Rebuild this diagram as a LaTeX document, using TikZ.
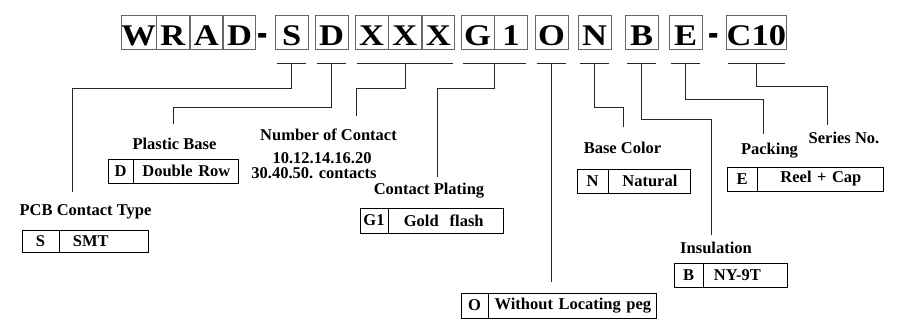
\documentclass[tikz,border=0pt]{standalone}
\usepackage{fontspec}
\setmainfont{Liberation Serif}
\newfontfamily\codefont[FakeStretch=1.15]{Liberation Serif}
\usetikzlibrary{positioning}

\tikzset{
	letterbox/.style = {draw=black!60, line width=0.8pt, minimum width=32.5pt, minimum height=34pt, inner sep=0pt, text height=26pt, text depth=0pt, font=\codefont\fontsize{30}{30}\selectfont\bfseries},
	dashmark/.style = {anchor=north, inner sep=0pt, font=\codefont\fontsize{30}{30}\selectfont\bfseries},
	keycell/.style = {draw, line width=0.9pt, minimum height=24pt, inner sep=0pt, font=\fontsize{16.5}{18}\selectfont\bfseries},
	valcell/.style = {keycell, right=0pt of #1, align=center},
	caption/.style = {anchor=base, inner sep=0pt, font=\fontsize{16.5}{18}\selectfont\bfseries},
	leader/.style = {draw=black!85, line width=0.8pt},
}

\begin{document}
\begin{tikzpicture}[x=1pt, y=-1pt]
		\useasboundingbox (0,0) rectangle (899,327);
		
		\node [letterbox, anchor=west] (pW) at (121,32) {W};
		\node [letterbox, right=0pt of pW] (pR) {R};
		\node [letterbox, right=0pt of pR] (pA) {A};
		\node [letterbox, right=0pt of pA] (pD) {D};
		\node [dashmark] (dash1) at (263,33) {\scalebox{0.9}[1.8]{-}};
		\node [letterbox, anchor=west] (cS) at (275,32) {S};
		\node [letterbox, anchor=west] (cD) at (315,32) {D};
		\node [letterbox, anchor=west] (cX1) at (355,32) {X};
		\node [letterbox, right=0pt of cX1] (cX2) {X};
		\node [letterbox, right=0pt of cX2] (cX3) {X};
		\node [letterbox, anchor=west] (cG) at (461,32) {G};
		\node [letterbox, right=0pt of cG] (cG1) {1};
		\node [letterbox, anchor=west] (cO) at (535,32) {O};
		\node [letterbox, anchor=west] (cN) at (578,32) {N};
		\node [letterbox, anchor=west] (cB) at (625,32) {B};
		\node [letterbox, anchor=west] (cE) at (669,32) {E};
		\node [dashmark] (dash2) at (714,33) {\scalebox{0.9}[1.8]{-}};
		\node [letterbox, anchor=west, minimum width=60pt] (cC) at (726,32) {C10};
		
		\node [caption] (lS) at (85.5,215) {PCB Contact Type};
		\node [caption] (lD) at (174.5,149) {Plastic Base};
		\node [caption] (lX) at (328.5,140) {Number of Contact};
		\node [caption] (lXa) at (322,163) {10.12.14.16.20};
		\node [caption] (lXb) at (314,178) {30.40.50. contacts};
		\node [caption] (lG) at (429,194) {Contact Plating};
		\node [caption] (lN) at (622.5,153) {Base Color};
		\node [caption] (lB) at (716,253) {Insulation};
		\node [caption] (lE) at (769.5,154) {Packing};
		\node [caption] (lC) at (844,143) {Series No.};
		
		\node [keycell, minimum width=37pt, minimum height=22pt] (kS) at (40.5,241) {S};
		\node [valcell=kS, minimum height=22pt, text width=63pt, inner xsep=13pt, align=left] (vS) {SMT};
		\node [keycell, minimum width=25pt] (kD) at (120.5,171) {D};
		\node [valcell=kD, text width=105pt] (vD) {Double Row};
		\node [keycell, minimum width=28pt, minimum height=25pt] (kG) at (374,220.5) {G1};
		\node [valcell=kG, minimum height=25pt, text width=85pt, inner xsep=15pt, align=left] (vG) {Gold\ \ flash};
		\node [keycell, minimum width=27pt, minimum height=25pt] (kO) at (474.5,305.5) {O};
		\node [valcell=kO, minimum height=25pt, text width=168pt] (vO) {Without Locating peg};
		\node [keycell, minimum width=31pt] (kN) at (592.5,181) {N};
		\node [valcell=kN, text width=82pt] (vN) {Natural};
		\node [keycell, minimum width=29pt] (kB) at (688.5,275) {B};
		\node [valcell=kB, text width=64pt, inner xsep=10pt, align=left] (vB) {NY-9T};
		\node [keycell, minimum width=30pt] (kE) at (742,179) {E};
		\node [valcell=kE, text width=126pt] (vE) {Reel + Cap};
		
		\coordinate (eS) at (72,192);
		\coordinate (eD) at (173,124);
		\coordinate (eX) at (356,116);
		\coordinate (eG) at (437,177);
		\coordinate (eO) at (551.5,282);
		\coordinate (eN) at (623,127);
		\coordinate (eB) at (711,235);
		\coordinate (eE) at (763,134);
		\coordinate (eC) at (827,125);
		
		\foreach \a/\z in {cS/cS, cD/cD, cX1/cX3, cG/cG1, cO/cO, cN/cN, cB/cB, cE/cE, cC/cC}
			\draw [leader] ([xshift=2pt, yshift=-14pt]\a.south west) -- ([xshift=-2pt, yshift=-14pt]\z.south east);
		
		\foreach \t/\d/\e in {cS.south/25/eS, cD.south/44/eD, cX2.south/25/eX, cG.south east/25/eG, cO.south/25/eO, cN.south/44/eN, cB.south/56/eB, cE.south/36/eE, cC.south/23/eC}
			\draw [leader] ([yshift=-14pt]\t) -- ++(0,\d) -| (\e);
		
	\end{tikzpicture}
\end{document}
